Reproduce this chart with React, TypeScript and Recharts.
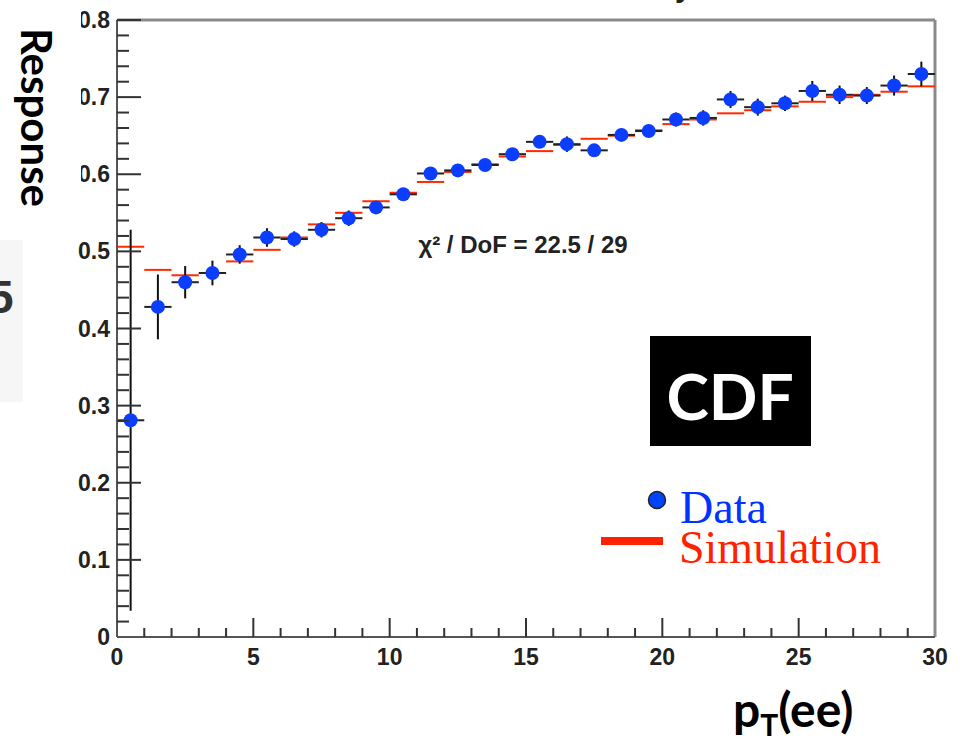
import React from "react";
import { ComposedChart, Scatter, XAxis, YAxis, ErrorBar, ReferenceLine } from "recharts";

// bin centres in pT(ee), 1 GeV bins
const binCenters = [
  0.5, 1.5, 2.5, 3.5, 4.5, 5.5, 6.5, 7.5, 8.5, 9.5, 10.5, 11.5, 12.5, 13.5, 14.5,
  15.5, 16.5, 17.5, 18.5, 19.5, 20.5, 21.5, 22.5, 23.5, 24.5, 25.5, 26.5, 27.5, 28.5, 29.5,
];
const binHalfWidth = [
  0.5, 0.5, 0.5, 0.5, 0.5, 0.5, 0.5, 0.5, 0.5, 0.5, 0.5, 0.5, 0.5, 0.5, 0.5,
  0.5, 0.5, 0.5, 0.5, 0.5, 0.5, 0.5, 0.5, 0.5, 0.5, 0.5, 0.5, 0.5, 0.5, 0.5,
];
const dataResponse = [
  0.281, 0.428, 0.46, 0.472, 0.496, 0.518, 0.516, 0.528, 0.543, 0.557, 0.574, 0.601, 0.605, 0.612, 0.626,
  0.642, 0.639, 0.631, 0.651, 0.656, 0.671, 0.673, 0.697, 0.687, 0.692, 0.708, 0.703, 0.702, 0.715, 0.73,
];
const dataError = [
  0.247, 0.042, 0.021, 0.016, 0.012, 0.012, 0.01, 0.01, 0.01, 0.008, 0.006, 0.008, 0.007, 0.006, 0.006,
  0.007, 0.01, 0.006, 0.008, 0.007, 0.009, 0.01, 0.011, 0.011, 0.01, 0.013, 0.012, 0.011, 0.013, 0.016,
];
const simResponse = [
  0.506, 0.476, 0.469, 0.472, 0.487, 0.502, 0.518, 0.535, 0.55, 0.565, 0.576, 0.59, 0.603, 0.613, 0.623,
  0.63, 0.638, 0.646, 0.65, 0.657, 0.665, 0.671, 0.679, 0.683, 0.688, 0.694, 0.7, 0.703, 0.707, 0.714,
];

const xTicks = [0, 1, 2, 3, 4, 5, 6, 7, 8, 9, 10, 11, 12, 13, 14, 15, 16, 17, 18, 19, 20, 21, 22, 23, 24, 25, 26, 27, 28, 29, 30];
const xLabels = [0, 5, 10, 15, 20, 25, 30];
const yTicks = [
  0, 0.02, 0.04, 0.06, 0.08, 0.1, 0.12, 0.14, 0.16, 0.18, 0.2, 0.22, 0.24, 0.26, 0.28, 0.3, 0.32, 0.34, 0.36, 0.38,
  0.4, 0.42, 0.44, 0.46, 0.48, 0.5, 0.52, 0.54, 0.56, 0.58, 0.6, 0.62, 0.64, 0.66, 0.68, 0.7, 0.72, 0.74, 0.76, 0.78, 0.8,
];
const yLabels = [0, 0.1, 0.2, 0.3, 0.4, 0.5, 0.6, 0.7, 0.8];

const dataPts = binCenters.map((x, i) => ({ x, y: dataResponse[i], ey: dataError[i], ex: binHalfWidth[i] }));
const simPts = binCenters.map((x, i) => ({ x, y: simResponse[i], ex: binHalfWidth[i] }));

const TICK_FONT = "'Liberation Sans', Arial, sans-serif";

function YTick({ x, y, payload }: any) {
  const v = payload.value;
  const major = yLabels.some((m) => Math.abs(m - v) < 1e-6);
  return (
    <g>
      {v > 0 && <line x1={x} x2={x + (major ? 24 : 12)} y1={y} y2={y} stroke="#333" strokeWidth={2} />}
      {major && (
        <text x={x - 7} y={y + 8} textAnchor="end" fontFamily={TICK_FONT} fontWeight={700} fontSize={23} fill="#222">
          {v === 0 ? "0" : v.toFixed(1)}
        </text>
      )}
    </g>
  );
}

function XTick({ x, y, payload }: any) {
  const v = payload.value;
  const major = xLabels.includes(v);
  return (
    <g>
      {v > 0 && v < 30 && <line x1={x} x2={x} y1={y} y2={y - (major ? 19 : 9)} stroke="#333" strokeWidth={2} />}
      {major && (
        <text x={x} y={y + 28} textAnchor="middle" fontFamily={TICK_FONT} fontWeight={700} fontSize={23} fill="#222">
          {v}
        </text>
      )}
    </g>
  );
}

const DataDot = (p: any) => <circle cx={p.cx} cy={p.cy} r={7} fill="#0b3dff" />;
const NoDot = () => <g />;

export default function App() {
  return (
    <div style={{ position: "relative", width: 970, height: 742, background: "#fff" }}>
      <style>{"body{margin:0}"}</style>
      <ComposedChart width={970} height={742} margin={{ top: 20, right: 35, left: 0, bottom: 0 }}>
        <XAxis
          dataKey="x"
          type="number"
          domain={[0, 30]}
          ticks={xTicks}
          interval={0}
          tickSize={0}
          tickMargin={0}
          tickLine={false}
          tick={<XTick />}
          height={105}
          axisLine={{ stroke: "#555", strokeWidth: 2 }}
          allowDataOverflow
        />
        <YAxis
          type="number"
          domain={[0, 0.8]}
          ticks={yTicks}
          interval={0}
          tickSize={0}
          tickMargin={0}
          tickLine={false}
          tick={<YTick />}
          width={117}
          axisLine={{ stroke: "#555", strokeWidth: 2 }}
          allowDataOverflow
        />
        <ReferenceLine y={0.8} stroke="#8a8a8a" strokeWidth={3} />
        <ReferenceLine x={30} stroke="#8a8a8a" strokeWidth={3} />
        <Scatter data={simPts} dataKey="y" shape={NoDot} isAnimationActive={false}>
          <ErrorBar dataKey="ex" direction="x" width={0} stroke="#ff2a00" strokeWidth={2} isAnimationActive={false} />
        </Scatter>
        <Scatter data={dataPts} dataKey="y" shape={DataDot} isAnimationActive={false}>
          <ErrorBar dataKey="ey" direction="y" width={0} stroke="#111" strokeWidth={2} isAnimationActive={false} />
          <ErrorBar dataKey="ex" direction="x" width={0} stroke="#222" strokeWidth={2} isAnimationActive={false} />
        </Scatter>
      </ComposedChart>

      {/* annotations on top of the plot */}
      <svg width={970} height={742} style={{ position: "absolute", left: 0, top: 0, pointerEvents: "none" }}>
        <rect x={0} y={0} width={81} height={222} fill="#fff" />
        <rect x={0} y={240} width={23} height={162} fill="#f6f6f6" />
        <text x={-12} y={313} fontFamily={TICK_FONT} fontWeight={700} fontSize={46} fill="#333">5</text>
        <text x={675} y={-3} fontFamily={TICK_FONT} fontWeight={700} fontSize={30} fill="#222">y</text>
        <text
          transform="translate(21,28) rotate(90)"
          fontFamily="Lato, sans-serif"
          fontWeight={700}
          fontSize={42}
          fill="#000"
        >
          Response
        </text>
        <text x={523} y={253} textAnchor="middle" fontFamily={TICK_FONT} fontWeight={700} fontSize={24} fill="#222">
          χ² / DoF = 22.5 / 29
        </text>
        <rect x={650} y={336} width={161} height={110} fill="#000" />
        <text x={730} y={420} textAnchor="middle" fontFamily="Lato, sans-serif" fontWeight={700} fontSize={64} fill="#fff">
          CDF
        </text>
        <circle cx={657} cy={500} r={8.5} fill="#0044ff" stroke="#222" strokeWidth={1.5} />
        <text x={680} y={523} fontFamily="'Liberation Serif', serif" fontSize={46} fill="#0033ff">Data</text>
        <rect x={601} y={537} width={62} height={8} fill="#ff2200" />
        <text x={679} y={563} fontFamily="'Liberation Serif', serif" fontSize={46} fill="#ff2200">Simulation</text>
        <text x={733} y={727} fontFamily="Lato, sans-serif" fontWeight={700} fontSize={48} fill="#000">
          p<tspan fontSize={30} dy={9}>T</tspan>
          <tspan dy={-9}>(ee)</tspan>
        </text>
      </svg>
    </div>
  );
}
